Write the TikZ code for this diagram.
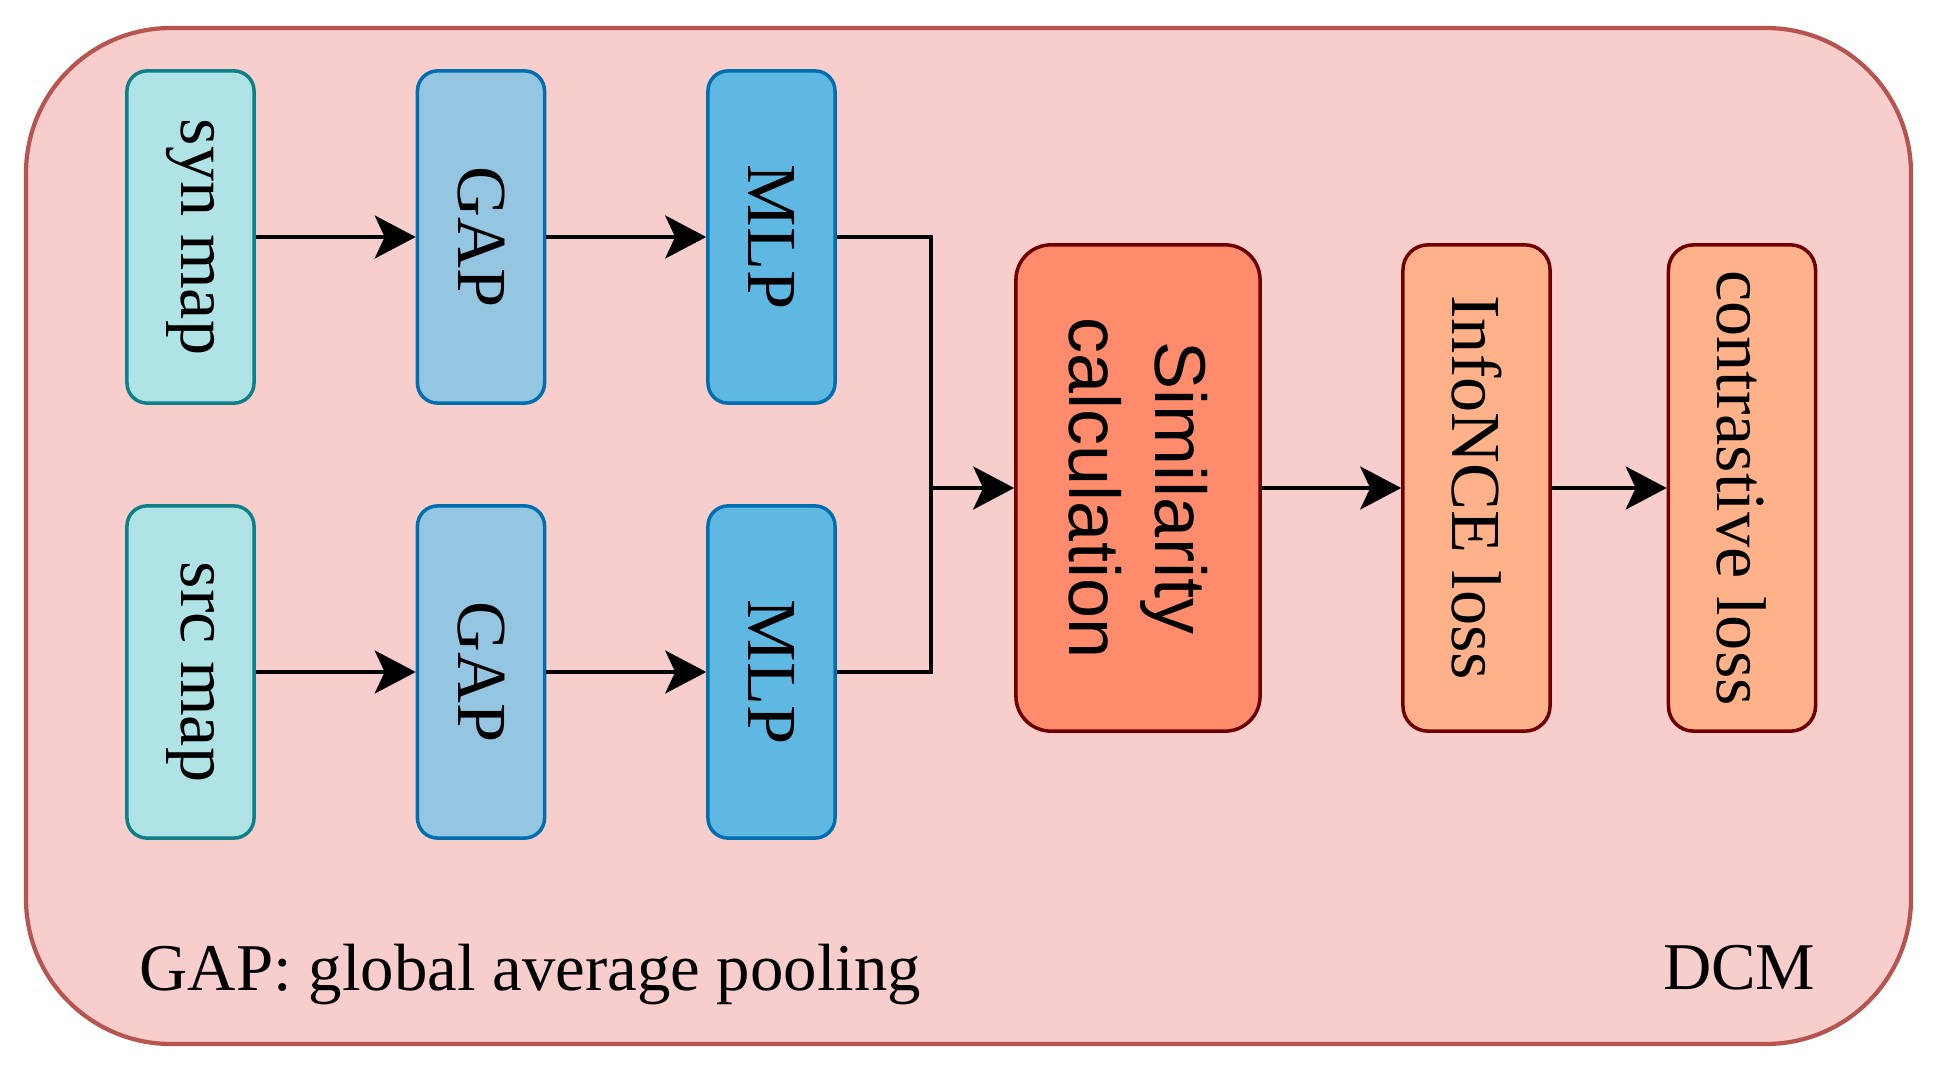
\documentclass[tikz,border=0pt]{standalone}
\usepackage{fontspec}
\setmainfont{Liberation Serif}
\setsansfont{Liberation Sans}
\usepackage{graphicx}
\usepackage{tikz}
\usetikzlibrary{arrows.meta}
\definecolor{dcmfill}{HTML}{F8CECC}
\definecolor{dcmline}{HTML}{B85450}
\definecolor{mapfill}{HTML}{B0E3E6}
\definecolor{mapline}{HTML}{0E8088}
\definecolor{gapfill}{HTML}{94C6E2}
\definecolor{mlpfill}{HTML}{5EB8E2}
\definecolor{blueline}{HTML}{006EAF}
\definecolor{simfill}{HTML}{FF8B6D}
\definecolor{lossfill}{HTML}{FFB28A}
\definecolor{lossline}{HTML}{6F0000}

\begin{document}
\begin{tikzpicture}[x=0.01cm,y=-0.01cm]
			\tikzstyle{box} = [draw, line width=1pt, inner sep=0pt, align=center, font=\fontsize{20}{24}\selectfont]
			\tikzstyle{mapbox} = [box, draw=mapline, fill=mapfill, rounded corners=0.2cm, minimum width=1.27cm, minimum height=3.32cm]
			\tikzstyle{gapbox} = [mapbox, draw=blueline, fill=gapfill]
			\tikzstyle{mlpbox} = [mapbox, draw=blueline, fill=mlpfill]
			\tikzstyle{lossbox} = [box, draw=lossline, fill=lossfill, rounded corners=0.25cm, minimum width=1.47cm, minimum height=4.86cm]
			\tikzstyle{flow} = [-{Stealth[length=0.41cm,width=0.43cm,inset=0.1cm]}, line width=1.1pt]
			\useasboundingbox (0,0) rectangle (1935,1073);
			\draw[draw=dcmline, fill=dcmfill, line width=1.2pt, rounded corners=1.45cm] (26,28) rectangle (1911,1044);
			\node[mapbox] (syn) at (190.5,237) {\rotatebox{-90}{syn map}};
			\node[gapbox] (gap1) at (481,237) {\rotatebox{-90}{GAP}};
			\node[mlpbox] (mlp1) at (771.5,237) {\rotatebox{-90}{MLP}};
			\node[mapbox] (src) at (190.5,672) {\rotatebox{-90}{src map}};
			\node[gapbox] (gap2) at (481,672) {\rotatebox{-90}{GAP}};
			\node[mlpbox] (mlp2) at (771.5,672) {\rotatebox{-90}{MLP}};
			\node[lossbox, fill=simfill, rounded corners=0.35cm, minimum width=2.44cm, font=\fontsize{20.5}{24.5}\selectfont\sffamily] (sim) at (1138,488)
				{\rotatebox{-90}{\begin{tabular}{@{}c@{}}Similarity\\calculation\end{tabular}}\hspace{0.17cm}};
			\node[lossbox] (info) at (1476.5,488) {\rotatebox{-90}{InfoNCE loss}};
			\node[lossbox] (contr) at (1742,488) {\rotatebox{-90}{contrastive loss}};
			\node[anchor=base west, inner sep=0pt, font=\fontsize{19}{23}\selectfont] (note) at (139,990) {GAP: global average pooling};
			\node[anchor=base east, inner sep=0pt, font=\fontsize{19}{23}\selectfont] (name) at (1816,989) {DCM};
			\coordinate (bend) at (931,0);
			\coordinate (merge) at (bend |- sim.west);
			\draw[flow] (syn) -- (gap1);
			\draw[flow] (gap1) -- (mlp1);
			\draw[flow] (src) -- (gap2);
			\draw[flow] (gap2) -- (mlp2);
			\draw[line width=1.1pt] (mlp1.east) -| (merge) |- (mlp2.east);
			\draw[flow] (merge) -- (sim.west);
			\draw[flow] (sim) -- (info);
			\draw[flow] (info) -- (contr);
\end{tikzpicture}
\end{document}
